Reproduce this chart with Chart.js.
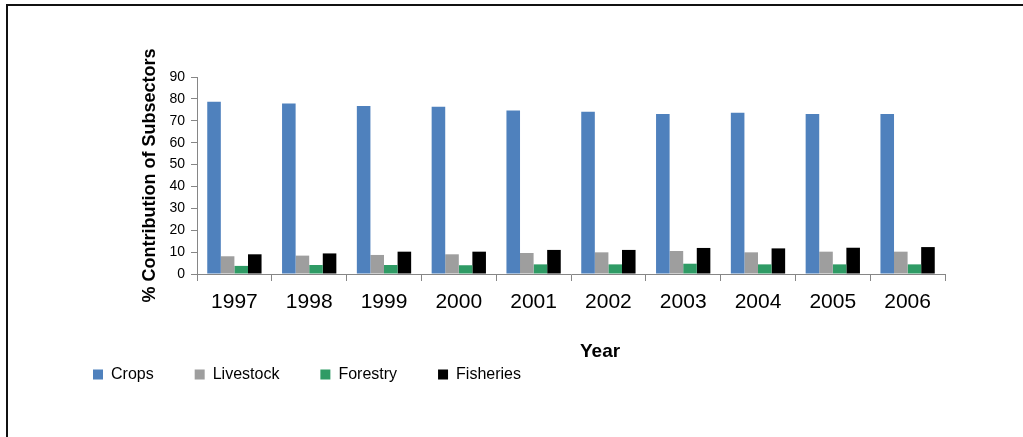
<!DOCTYPE html>
<html>
<head>
<meta charset="utf-8">
<title>Contribution of Subsectors</title>
<script src="https://cdn.jsdelivr.net/npm/chart.js@4.4.1/dist/chart.umd.min.js"></script>
<style>
  html, body { margin: 0; padding: 0; background: #ffffff; }
  #wrap { position: relative; width: 1023px; height: 437px; overflow: hidden; background: #ffffff; }
  #c { position: absolute; left: 0; top: 0; }
  /* frame lines along the top and left edges */
  #frame { position: absolute; left: 6px; top: 4px; right: -10px; bottom: -10px;
           border-top: 2px solid #111; border-left: 2px solid #111; pointer-events: none; }
</style>
</head>
<body>
<div id="wrap">
  <canvas id="c" width="1023" height="437"></canvas>
  <div id="frame"></div>
</div>
<script>
// Share (%) of each agricultural subsector, by year
const years     = ['1997', '1998', '1999', '2000', '2001', '2002', '2003', '2004', '2005', '2006'];
const crops     = [78.7, 77.9, 76.7, 76.4, 74.7, 74.1, 73.1, 73.7, 73.1, 73.1];
const livestock = [8.1, 8.4, 8.7, 9.0, 9.6, 9.9, 10.5, 9.9, 10.2, 10.2];
const forestry  = [3.7, 4.1, 4.1, 4.0, 4.4, 4.4, 4.7, 4.4, 4.4, 4.4];
const fisheries = [9.0, 9.4, 10.2, 10.2, 11.0, 11.0, 11.9, 11.7, 12.0, 12.3];

const yMin = 0, yMax = 90, yStep = 10;

const FONT = "'Liberation Sans', Arial, Helvetica, sans-serif";
const AXIS_GRAY = '#868686';

Chart.defaults.font.family = FONT;
Chart.defaults.color = '#000000';

new Chart(document.getElementById('c'), {
  type: 'bar',
  data: {
    labels: years,
    datasets: [
      { label: 'Crops',     data: crops,     backgroundColor: '#4F81BD' },
      { label: 'Livestock', data: livestock, backgroundColor: '#9E9E9E' },
      { label: 'Forestry',  data: forestry,  backgroundColor: '#2F9B65' },
      { label: 'Fisheries', data: fisheries, backgroundColor: '#000000' }
    ]
  },
  options: {
    responsive: false,
    animation: false,
    devicePixelRatio: 1,
    datasets: {
      bar: { categoryPercentage: 0.726, barPercentage: 1.0, borderWidth: 0 }
    },
    layout: { padding: { left: 52, top: 77, right: 78, bottom: 44.5 } },
    plugins: {
      tooltip: { enabled: false },
      legend: {
        position: 'bottom',
        align: 'start',
        labels: {
          boxWidth: 10,
          boxHeight: 10,
          padding: 41,
          color: '#000000',
          font: { size: 16 }
        }
      }
    },
    scales: {
      x: {
        grid: { display: true, offset: true, drawOnChartArea: false, drawTicks: true,
                tickLength: 7, color: AXIS_GRAY, lineWidth: 1 },
        border: { display: true, color: AXIS_GRAY, width: 1 },
        ticks: { color: '#000000', font: { size: 21 }, padding: 9, maxRotation: 0, autoSkip: false },
        title: {
          display: true,
          text: 'Year'.padStart(15),
          color: '#000000',
          font: { size: 19, weight: 'bold' },
          padding: { top: 0, bottom: -37.4 }
        },
        afterFit: (scale) => { scale.height = 51.5; }
      },
      y: {
        min: yMin,
        max: yMax,
        grid: { display: true, drawOnChartArea: false, drawTicks: true,
                tickLength: 6, color: AXIS_GRAY, lineWidth: 1 },
        border: { display: true, color: AXIS_GRAY, width: 1 },
        ticks: { stepSize: yStep, color: '#000000', font: { size: 14 }, padding: 6 },
        title: {
          display: true,
          text: '% Contribution of Subsectors',
          color: '#000000',
          font: { size: 18, weight: 'bold' },
          padding: { top: 87, bottom: 0 }
        },
        afterFit: (scale) => { scale.width = 145; }
      }
    }
  }
});
</script>
</body>
</html>
